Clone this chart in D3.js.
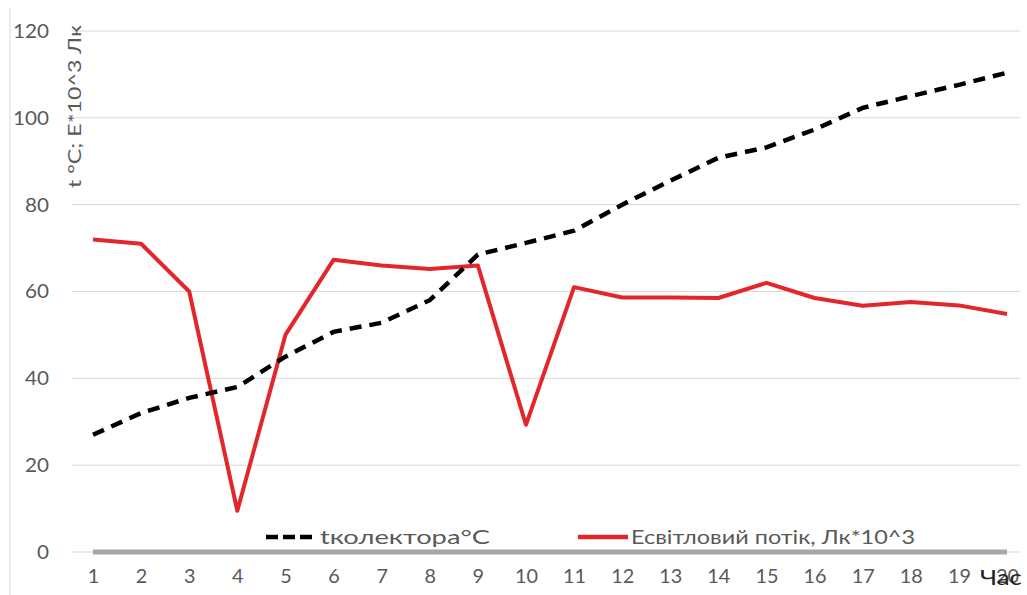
<!DOCTYPE html>
<html><head><meta charset="utf-8">
<script src="https://cdn.jsdelivr.net/npm/d3@7"></script>
<style>body{margin:0;background:#fff;} text{font-family:Lato, "Open Sans", sans-serif;}</style>
</head><body>
<svg id="c" width="1027" height="595"></svg>
<script>
const hours = [1,2,3,4,5,6,7,8,9,10,11,12,13,14,15,16,17,18,19,20];
const tCollector = [27,32,35.5,38,45,50.7,52.8,58,68.5,71.2,74,80,85.5,90.8,93.2,97.3,102.3,105,107.6,110.4];
const lightFlux = [72,71,60,9.5,50,67.3,66,65.2,66,29.3,61,58.6,58.6,58.5,62,58.5,56.7,57.6,56.8,54.8];
const baseline = [0,0,0,0,0,0,0,0,0,0,0,0,0,0,0,0,0,0,0,0];
const yTicks = [0,20,40,60,80,100,120];
const seriesNames = ["tколектора°C","Есвітловий потік, Лк*10^3"];

const svg = d3.select("#c");
const x = d3.scaleLinear().domain([1,20]).range([93,1007]);
const y = d3.scaleLinear().domain([0,120]).range([552,31]);

// frame left border
svg.append("line").attr("x1",10).attr("x2",10).attr("y1",8).attr("y2",595).attr("stroke","#d9d9d9").attr("stroke-width",1);

// gridlines
svg.append("g").selectAll("line").data(yTicks).join("line")
  .attr("x1",72).attr("x2",1020).attr("y1",d=>y(d)).attr("y2",d=>y(d))
  .attr("stroke","#d9d9d9").attr("stroke-width",1);

// y tick labels
const yAxis = d3.axisLeft(y).tickValues(yTicks).tickSize(0).tickPadding(0);
const gy = svg.append("g").attr("transform","translate(49,0)").call(yAxis);
gy.select(".domain").remove();
gy.selectAll("text").attr("font-size",20).attr("fill","#595959").style("font-family","Lato, sans-serif")
  .attr("textLength",function(){return this.textContent.length*12;}).attr("lengthAdjust","spacingAndGlyphs");

// x tick labels
const xAxis = d3.axisBottom(x).tickValues(hours).tickSize(0).tickPadding(0).tickFormat(d3.format("d"));
const gx = svg.append("g").attr("transform","translate(0,569)").call(xAxis);
gx.select(".domain").remove();
gx.selectAll("text").attr("font-size",20).attr("fill","#595959").style("font-family","Lato, sans-serif")
  .attr("textLength",function(){return this.textContent.length*11.5;}).attr("lengthAdjust","spacingAndGlyphs");

// axis titles
svg.append("text").attr("transform","translate(81,25) rotate(-90)").attr("text-anchor","end")
  .attr("font-size",18).attr("fill","#595959").attr("textLength",163).attr("lengthAdjust","spacingAndGlyphs")
  .text("t °C; E*10^3 Лк");
svg.append("text").attr("x",1022).attr("y",585).attr("text-anchor","end")
  .attr("font-size",21).attr("fill","#222").attr("textLength",42).attr("lengthAdjust","spacingAndGlyphs").text("Час");

const line = d3.line().x((d,i)=>x(hours[i])).y(d=>y(d));

// baseline series (gray)
svg.append("path").datum(baseline).attr("d",line).attr("fill","none")
  .attr("stroke","#a6a6a6").attr("stroke-width",5);

// red series
svg.append("path").datum(lightFlux).attr("d",line).attr("fill","none")
  .attr("stroke","#e3262b").attr("stroke-width",4).attr("stroke-linejoin","round");

// black dashed series
svg.append("path").datum(tCollector).attr("d",line).attr("fill","none")
  .attr("stroke","#000").attr("stroke-width",4.5).attr("stroke-dasharray","12,8");

// legend
const lg = svg.append("g");
lg.append("line").attr("x1",266).attr("x2",312).attr("y1",537).attr("y2",537)
  .attr("stroke","#000").attr("stroke-width",4.5).attr("stroke-dasharray","12,5");
lg.append("text").attr("x",320).attr("y",544).attr("font-size",20).attr("fill","#595959")
  .attr("textLength",170).attr("lengthAdjust","spacingAndGlyphs").text(seriesNames[0]);
lg.append("line").attr("x1",578).attr("x2",628).attr("y1",537).attr("y2",537)
  .attr("stroke","#e3262b").attr("stroke-width",4.5);
lg.append("text").attr("x",631).attr("y",544).attr("font-size",20).attr("fill","#595959")
  .attr("textLength",284).attr("lengthAdjust","spacingAndGlyphs").text(seriesNames[1]);
</script>
</body></html>
